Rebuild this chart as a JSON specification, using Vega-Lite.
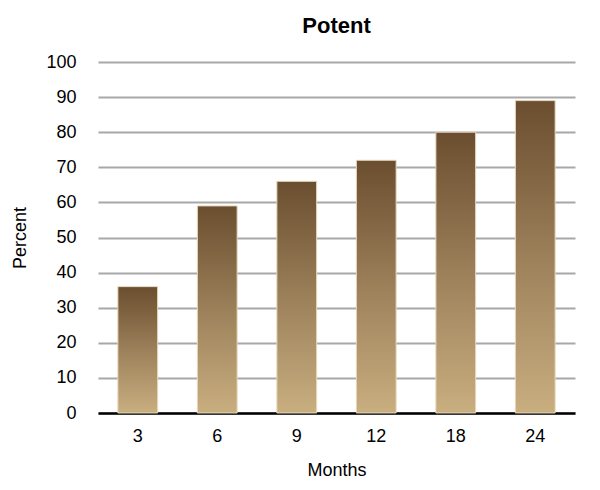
{
  "$schema": "https://vega.github.io/schema/vega-lite/v6.json",
  "autosize": "none",
  "width": 477,
  "height": 351,
  "padding": {"left": 98, "top": 62, "right": 25, "bottom": 77},
  "background": "white",
  "title": {"text": "Potent", "fontSize": 22, "font": "Liberation Sans", "fontWeight": "bold", "color": "#000", "offset": 15, "anchor": "middle"},
  "data": {"values": [
    {"month": "3", "percent": 36},
    {"month": "6", "percent": 59},
    {"month": "9", "percent": 66},
    {"month": "12", "percent": 72},
    {"month": "18", "percent": 80},
    {"month": "24", "percent": 89}
  ]},
  "config": {"view": {"stroke": null}, "font": "Liberation Sans"},
  "mark": {
    "type": "bar",
    "stroke": "#e6d8bc",
    "strokeWidth": 1,
    "color": {
      "gradient": "linear", "x1": 0, "y1": 0, "x2": 0, "y2": 1,
      "stops": [
        {"offset": 0, "color": "#6a4e2f"},
        {"offset": 0.5, "color": "#9c805a"},
        {"offset": 1, "color": "#c9ae80"}
      ]
    }
  },
  "encoding": {
    "x": {
      "field": "month", "type": "ordinal", "sort": null,
      "scale": {"paddingInner": 0.5, "paddingOuter": 0.25},
      "axis": {"title": "Months", "labelAngle": 0, "labelFontSize": 18, "labelColor": "#000", "titleFontSize": 18, "titleFontWeight": "normal", "titleColor": "#000", "titlePadding": 16, "labelPadding": 14, "ticks": false, "domainColor": "#000", "domainWidth": 2.5}
    },
    "y": {
      "field": "percent", "type": "quantitative",
      "scale": {"domain": [0, 100], "nice": false},
      "axis": {"title": "Percent", "values": [0,10,20,30,40,50,60,70,80,90,100], "labelOverlap": false, "labelFontSize": 18, "labelColor": "#000", "titleFontSize": 18, "titleFontWeight": "normal", "titleColor": "#000", "titlePadding": 16, "labelPadding": 22, "ticks": false, "domain": false, "gridColor": "#a8a8a8", "gridWidth": 2, "gridOpacity": 1}
    }
  }
}
